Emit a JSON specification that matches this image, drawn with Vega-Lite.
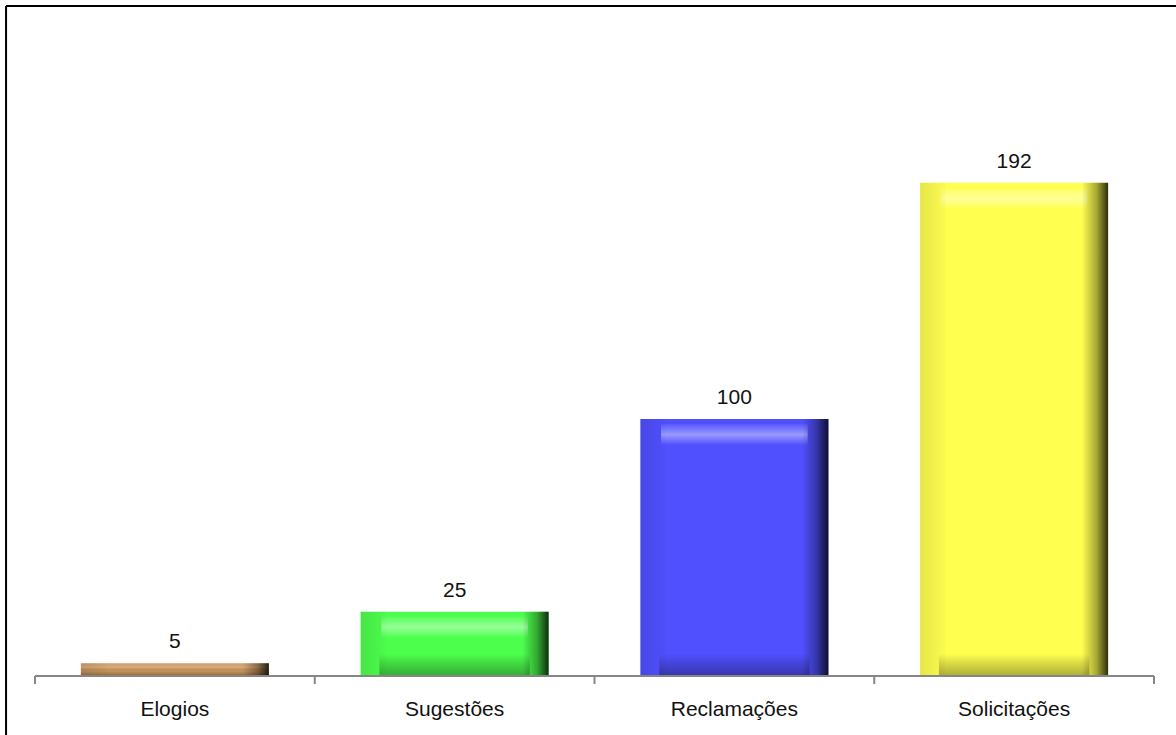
{
  "$schema": "https://vega.github.io/schema/vega-lite/v6.json",
  "autosize": {"type": "none"},
  "padding": {"left": 6, "top": 6, "right": 0, "bottom": 0},
  "width": 1170,
  "height": 729,
  "background": "white",
  "config": {
    "view": {"stroke": null},
    "text": {"font": "Liberation Sans, Arial", "fontSize": 21, "fill": "#111111"}
  },
  "datasets": {
    "manifestacoes": [
      {"tipo": "Elogios", "total": 5},
      {"tipo": "Sugestões", "total": 25},
      {"tipo": "Reclamações", "total": 100},
      {"tipo": "Solicitações", "total": 192}
    ],
    "unico": [{"k": 1}]
  },
  "resolve": {"scale": {"x": "shared", "y": "shared"}},
  "layer": [
    {
      "data": {"name": "manifestacoes"},
      "mark": {"type": "bar"},
      "encoding": {
        "x": {
          "field": "tipo",
          "type": "nominal",
          "axis": null,
          "scale": {
            "domain": ["Elogios", "Sugestões", "Reclamações", "Solicitações"],
            "paddingInner": 0.32797,
            "paddingOuter": 0.25514,
            "align": 0.5245
          }
        },
        "y": {
          "field": "total",
          "type": "quantitative",
          "axis": null,
          "scale": {"domain": [-22.97, 260.8], "nice": false, "zero": false}
        },
        "y2": {"datum": 0},
        "color": {
          "field": "tipo",
          "type": "nominal",
          "legend": null,
          "scale": {
            "domain": ["Elogios", "Sugestões", "Reclamações", "Solicitações"],
            "range": ["#c99459", "#4dff4d", "#5050ff", "#ffff50"]
          }
        }
      }
    },
    {
      "data": {"name": "manifestacoes"},
      "transform": [{"filter": "datum.total >= 20"}],
      "mark": {
        "type": "bar",
        "width": {"band": 0.78},
        "yOffset": 5,
        "y2Offset": 26,
        "fill": {
          "gradient": "linear", "x1": 0, "y1": 0, "x2": 0, "y2": 1,
          "stops": [
            {"offset": 0, "color": "rgba(255,255,255,0.05)"},
            {"offset": 0.5, "color": "rgba(255,255,255,0.42)"},
            {"offset": 1, "color": "rgba(255,255,255,0)"}
          ]
        }
      },
      "encoding": {
        "x": {"field": "tipo", "type": "nominal"},
        "y": {"field": "total", "type": "quantitative"},
        "y2": {"field": "total"}
      }
    },
    {
      "data": {"name": "manifestacoes"},
      "transform": [{"filter": "datum.total >= 20"}],
      "mark": {
        "type": "bar",
        "width": {"band": 0.8},
        "yOffset": -22,
        "fill": {
          "gradient": "linear", "x1": 0, "y1": 0, "x2": 0, "y2": 1,
          "stops": [
            {"offset": 0, "color": "rgba(0,0,0,0)"},
            {"offset": 0.4, "color": "rgba(0,0,0,0.14)"},
            {"offset": 1, "color": "rgba(0,0,0,0.32)"}
          ]
        }
      },
      "encoding": {
        "x": {"field": "tipo", "type": "nominal"},
        "y": {"datum": 0},
        "y2": {"datum": 0}
      }
    },
    {
      "data": {"name": "manifestacoes"},
      "transform": [{"filter": "datum.total < 20"}],
      "mark": {
        "type": "bar",
        "fill": {
          "gradient": "linear", "x1": 0, "y1": 0, "x2": 0, "y2": 1,
          "stops": [
            {"offset": 0, "color": "rgba(255,255,255,0.1)"},
            {"offset": 0.35, "color": "rgba(255,255,255,0.22)"},
            {"offset": 0.6, "color": "rgba(0,0,0,0)"},
            {"offset": 1, "color": "rgba(0,0,0,0.3)"}
          ]
        }
      },
      "encoding": {
        "x": {"field": "tipo", "type": "nominal"},
        "y": {"field": "total", "type": "quantitative"},
        "y2": {"datum": 0}
      }
    },
    {
      "data": {"name": "manifestacoes"},
      "mark": {
        "type": "bar",
        "fill": {
          "gradient": "linear", "x1": 0, "y1": 0, "x2": 1, "y2": 0,
          "stops": [
            {"offset": 0, "color": "rgba(0,0,0,0.1)"},
            {"offset": 0.13, "color": "rgba(0,0,0,0.02)"},
            {"offset": 0.14, "color": "rgba(0,0,0,0)"},
            {"offset": 0.86, "color": "rgba(0,0,0,0)"},
            {"offset": 0.94, "color": "rgba(0,0,0,0.35)"},
            {"offset": 1, "color": "rgba(0,0,0,0.82)"}
          ]
        }
      },
      "encoding": {
        "x": {"field": "tipo", "type": "nominal"},
        "y": {"field": "total", "type": "quantitative"},
        "y2": {"datum": 0}
      }
    },
    {
      "data": {"name": "manifestacoes"},
      "mark": {"type": "text", "baseline": "alphabetic", "dy": -15},
      "encoding": {
        "x": {"field": "tipo", "type": "nominal"},
        "y": {"field": "total", "type": "quantitative"},
        "text": {"field": "total", "type": "quantitative"}
      }
    },
    {
      "data": {"name": "manifestacoes"},
      "mark": {"type": "text", "baseline": "alphabetic", "dy": 40},
      "encoding": {
        "x": {"field": "tipo", "type": "nominal"},
        "y": {"datum": 0},
        "text": {"field": "tipo", "type": "nominal"}
      }
    },
    {
      "data": {"name": "unico"},
      "mark": {"type": "rule", "color": "#868686", "strokeWidth": 2},
      "encoding": {
        "x": {"datum": "Elogios", "bandPosition": -0.244},
        "x2": {"datum": "Solicitações", "bandPosition": 1.244},
        "y": {"datum": 0}
      }
    },
    {
      "data": {"name": "manifestacoes"},
      "mark": {"type": "rule", "color": "#868686", "strokeWidth": 2},
      "encoding": {
        "x": {"field": "tipo", "type": "nominal", "bandPosition": -0.244},
        "y": {"datum": 0},
        "y2": {"datum": -3.1}
      }
    },
    {
      "data": {"name": "unico"},
      "mark": {"type": "rule", "color": "#868686", "strokeWidth": 2},
      "encoding": {
        "x": {"datum": "Solicitações", "bandPosition": 1.244},
        "y": {"datum": 0},
        "y2": {"datum": -3.1}
      }
    },
    {
      "data": {"name": "unico"},
      "mark": {"type": "rule", "color": "#000000", "strokeWidth": 2},
      "encoding": {"y": {"datum": 260.8}}
    },
    {
      "data": {"name": "unico"},
      "mark": {"type": "rule", "color": "#000000", "strokeWidth": 2},
      "encoding": {
        "x": {"datum": "Elogios", "bandPosition": -0.398},
        "y": {"datum": 260.8},
        "y2": {"datum": -22.97}
      }
    }
  ]
}
